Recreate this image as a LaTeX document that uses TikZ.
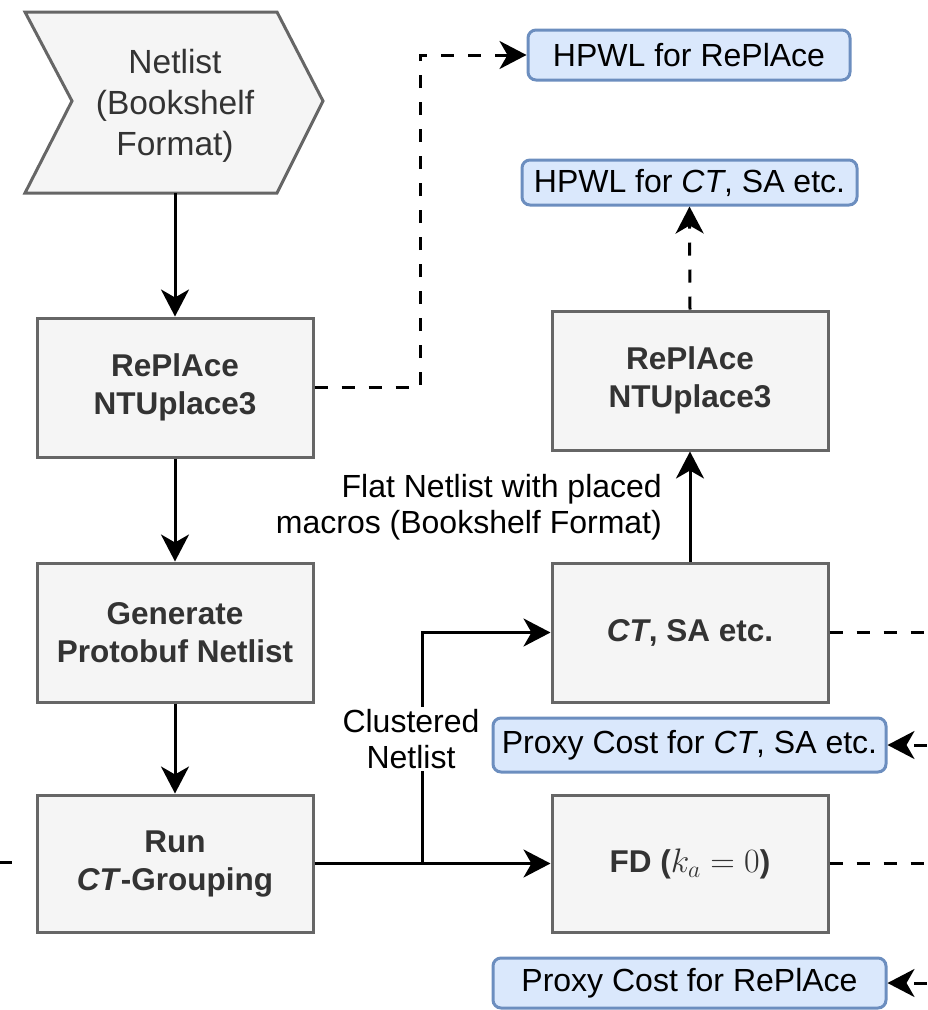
\documentclass[tikz,border=0pt]{standalone}
\usepackage{fix-cm}
\usepackage{fontspec}
\setmainfont{Liberation Sans}
\usetikzlibrary{arrows.meta}

\definecolor{grayline}{HTML}{666666}
\definecolor{grayfill}{HTML}{F5F5F5}
\definecolor{graytext}{HTML}{333333}
\definecolor{blueline}{HTML}{6C8EBF}
\definecolor{bluefill}{HTML}{DAE8FC}

\tikzset{
  stage/.style={draw=grayline, fill=grayfill, line width=3pt, text=graytext,
    font=\fontsize{31.5}{38}\selectfont\bfseries, align=center, inner sep=0pt,
    minimum width=276pt, minimum height=139pt},
  result/.style={draw=blueline, fill=bluefill, line width=3pt, rounded corners=8pt,
    font=\fontsize{32}{38}\selectfont, text=black, inner sep=0pt, align=center},
  edgelabel/.style={font=\fontsize{32}{36}\selectfont, text=black, inner sep=2pt},
  flow/.style={line width=3pt, draw=black},
  tip/.style={-{Stealth[length=27pt, width=28pt, inset=8pt]}},
  dashline/.style={flow, dash pattern=on 13pt off 14pt},
}

\begin{document}
\begin{tikzpicture}[x=1pt, y=-1pt]
\useasboundingbox (0,0) rectangle (927,1010);

% input chevron
\draw[draw=grayline, fill=grayfill, line width=3pt, line join=miter]
  (25,12) -- (277,12) -- (323,101) -- (277,193) -- (25,193) -- (72,101) -- cycle;
\node[text=graytext, font=\fontsize{33.5}{41}\selectfont, align=center] (netlist)
  at (175,106) {Netlist\\(Bookshelf\\Format)};
\coordinate (netlistout) at (175,193);

% main flow
\node[stage] (place1) at (175,387.5) {RePlAce\\NTUplace3};
\node[stage] (proto)  at (175,632.5) {Generate\\Protobuf Netlist};
\node[stage, minimum height=137pt] (group) at (175,863.5) {Run\\\textit{CT}-Grouping};

% placers
\node[stage] (ct)     at (690,632.5) {\textit{CT}, SA etc.};
\node[stage] (place2) at (690,380.5) {RePlAce\\NTUplace3};
\node[stage, minimum height=137pt] (fd) at (690,863.5)
  {FD ({\fontsize{34}{38}\selectfont\(k_a = 0\)})};

% results
\node[result, minimum width=322pt, minimum height=50pt] (hpwlrep) at (689,55) {HPWL for RePlAce};
\node[result, minimum width=335pt, minimum height=45pt] (hpwlct) at (689.5,182.5) {HPWL for \textit{CT}, SA etc.};
\node[result, minimum width=393pt, minimum height=54pt] (proxyct) at (689.5,745) {Proxy Cost for \textit{CT}, SA etc.};
\node[result, minimum width=393pt, minimum height=50pt] (proxyrep) at (689.5,983) {Proxy Cost for RePlAce};

% free ends at the borders
\coordinate (leftin)  at (0,862);
\coordinate (leftend) at (12,862);
\coordinate (ctout)   at (927,632.5);
\coordinate (fdout)   at (927,863.5);
\coordinate (ctin)    at (927,745);
\coordinate (repin)   at (927,983);
\coordinate (split)   at (422,863.5);

% solid connectors
\draw[flow, tip] (netlistout) -- (place1.north);
\draw[flow, tip] (place1.south) -- (proto.north);
\draw[flow, tip] (proto.south) -- (group.north);
\draw[flow, tip] (group.east) -- (fd.west);
\draw[flow, tip] (split) |- (ct.west);
\draw[flow, tip] (ct.north) -- (place2.south);
\draw[flow] (leftin) -- (leftend);

% dashed connectors
\draw[dashline, tip] (place1.east) -- (420,387.5) |- (hpwlrep.west);
\draw[dashline, tip] (place2.north) -- (hpwlct.south);
\draw[dashline] (ct.east) -- (ctout);
\draw[dashline] (fd.east) -- (fdout);
\draw[dashline, tip] (ctin) -- (proxyct.east);
\draw[dashline, tip] (repin) -- (proxyrep.east);

% edge labels
\node[edgelabel, fill=white, align=center] (clustered) at (411,739) {Clustered\\Netlist};
\node[edgelabel, anchor=east, align=right] (flat) at (664,507) {Flat Netlist with placed\\macros (Bookshelf Format)};
\end{tikzpicture}
\end{document}
